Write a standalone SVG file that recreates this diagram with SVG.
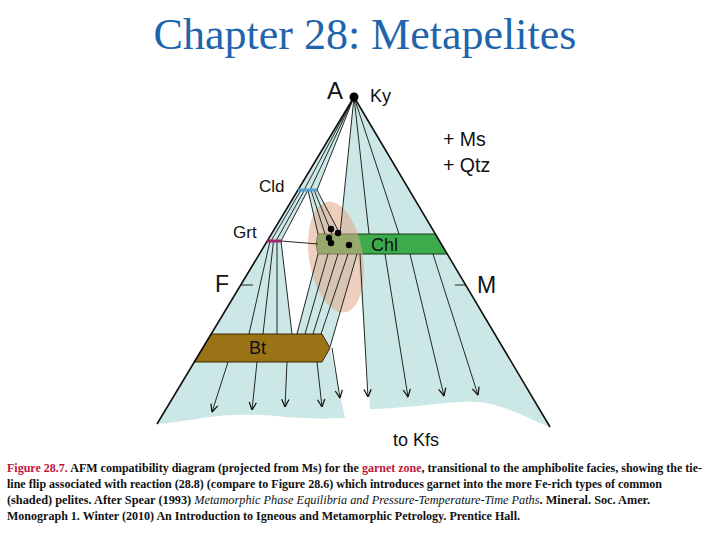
<svg xmlns="http://www.w3.org/2000/svg" width="720" height="540" viewBox="0 0 720 540">
<defs>
<style>
.fld{fill:#cbe8e6;stroke:none}
.tl{stroke:#111;stroke-width:0.9;fill:none}
.edge{stroke:#111;stroke-width:1.6;fill:none}
.lbl{font-family:"Liberation Sans",Arial,sans-serif;fill:#111}
.cap{font-family:"Liberation Serif","Times New Roman",serif;font-size:12.5px;font-weight:bold;fill:#111}
.red{fill:#c0143c}
.it{font-style:italic;font-weight:normal}
.dot{fill:#000}
</style>
<marker id="arr" viewBox="0 0 10 10" refX="9.5" refY="5" markerWidth="9" markerHeight="9" markerUnits="userSpaceOnUse" orient="auto">
<path d="M1,1 L9.5,5 L1,9" fill="none" stroke="#111" stroke-width="1.4"/>
</marker>
</defs>
<rect width="720" height="540" fill="#fff"/>
<text id="title" x="365" y="49" text-anchor="middle" font-family="'Liberation Serif','Times New Roman',serif" font-size="44" fill="#1f65ad">Chapter 28: Metapelites</text>

<g id="fields">
<polygon class="fld" points="354,97 298,190 317,190"/>
<polygon class="fld" points="298,190 308,190 281,241 267,241"/>
<polygon class="fld" points="308,190 317,190 340,234 318,234"/>
<polygon class="fld" points="354,97 340,234 435,234"/>
<polygon class="fld" points="267,241 281,241 292,334 211,334"/>
<polygon class="fld" points="318,254 357,254 330,347 322,334 296,334"/>
<path class="fld" d="M358,254 L447,254 L550,427 C530,420 505,404 477,402 C455,401 440,404 417,406 C400,407 385,409 370,409 Z"/>
<path class="fld" d="M194,362 L322,362 L330,348 L345,418 C320,419 300,418 285,417 C260,414 230,414 210,417 C190,420 170,423 157,424 Z"/>
</g>

<g id="Chl">
<polygon points="318,234 435,234 447,254 318,254 316,244" fill="#3cab4c" stroke="#153a15" stroke-width="1"/>
</g>
<g id="Bt">
<polygon points="211,334 322,334 330,348 322,362 194,362" fill="#9a7317" stroke="#3a2a05" stroke-width="1"/>
<text class="lbl" x="249" y="354" font-size="18">Bt</text>
</g>

<g id="shaded">
<ellipse cx="336" cy="257" rx="27" ry="56" transform="rotate(-9 336 257)" fill="#e0a888" opacity="0.55"/>
</g>

<g id="connectors">
<path class="tl" d="M354,97 L304,190 M354,97 L310,190 M354,97 L317,190"/>
<path class="tl" d="M301,190 L271,241 M304.5,190 L276,241 M308,190 L281,241"/>
<path class="tl" d="M308,190 L318,234 M311,190 L325,234 M314,190 L332,234 M317,190 L340,234"/>
<path class="tl" d="M354,97 L340,234 M354,97 L369,234 M354,97 L399,234"/>
<path class="tl" d="M281,241 L318,244"/>
<path class="tl" d="M270,241 L249,334 M273.5,241 L263,334 M277,241 L277,334 M281,241 L292,334"/>
<path class="tl" d="M318,254 L297,334 M328,254 L305,334 M338,254 L313,334 M348,254 L321,334 M357,254 L330,347"/>
<g marker-end="url(#arr)">
<line class="tl" x1="228" y1="362" x2="212" y2="412"/>
<line class="tl" x1="257" y1="362" x2="252" y2="410"/>
<line class="tl" x1="287" y1="362" x2="285" y2="407"/>
<line class="tl" x1="317" y1="362" x2="322" y2="407"/>
<line class="tl" x1="332" y1="348" x2="340" y2="398"/>
<line class="tl" x1="360" y1="254" x2="368" y2="397"/>
<line class="tl" x1="385" y1="254" x2="408" y2="397"/>
<line class="tl" x1="410" y1="254" x2="444" y2="396"/>
<line class="tl" x1="433" y1="254" x2="478" y2="395"/>
</g>
<path class="edge" d="M354,97 L157,424 M354,97 L550,427"/>
<path class="tl" d="M241,285 L253,285 M455,285 L466,285"/>
</g>

<g id="Cld">
<line x1="298" y1="190" x2="317" y2="190" stroke="#5a9ccc" stroke-width="3"/>
<text class="lbl" x="259" y="192" font-size="17">Cld</text>
</g>
<g id="Grt">
<line x1="267" y1="241" x2="281" y2="241" stroke="#a0246a" stroke-width="3"/>
<text class="lbl" x="233" y="238" font-size="17">Grt</text>
</g>
<g id="rocks">
<circle class="dot" cx="331" cy="229" r="3.2"/>
<circle class="dot" cx="338" cy="233" r="3.2"/>
<circle class="dot" cx="329" cy="238" r="3.2"/>
<circle class="dot" cx="331" cy="243" r="3.2"/>
<circle class="dot" cx="349" cy="245" r="3.2"/>
</g>
<g id="A">
<circle class="dot" cx="354" cy="97" r="4.5"/>
<text class="lbl" x="327" y="99" font-size="24">A</text>
<text class="lbl" x="370" y="102" font-size="18">Ky</text>
</g>
<g id="labels">
<text class="lbl" x="371" y="251" font-size="18">Chl</text>
<text class="lbl" x="443" y="146" font-size="19.5">+ Ms</text>
<text class="lbl" x="443" y="172" font-size="19.5">+ Qtz</text>
<text class="lbl" x="215" y="292" font-size="23">F</text>
<text class="lbl" x="477" y="293" font-size="23">M</text>
<text class="lbl" x="393" y="446" font-size="18">to Kfs</text>
</g>

<g id="caption">
<text class="cap" x="7" y="472" textLength="695" lengthAdjust="spacingAndGlyphs"><tspan class="red">Figure 28.7.</tspan> AFM compatibility diagram (projected from Ms) for the <tspan class="red">garnet zone</tspan>, transitional to the amphibolite facies, showing the tie-</text>
<text class="cap" x="7" y="488" textLength="655" lengthAdjust="spacingAndGlyphs">line flip associated with reaction (28.8) (compare to Figure 28.6) which introduces garnet into the more Fe-rich types of common</text>
<text class="cap" x="7" y="504" textLength="643" lengthAdjust="spacingAndGlyphs">(shaded) pelites. After Spear (1993) <tspan class="it">Metamorphic Phase Equilibria and Pressure-Temperature-Time Paths</tspan>. Mineral. Soc. Amer.</text>
<text class="cap" x="7" y="520" textLength="513" lengthAdjust="spacingAndGlyphs">Monograph 1. Winter (2010) An Introduction to Igneous and Metamorphic Petrology. Prentice Hall.</text>
</g>
</svg>
